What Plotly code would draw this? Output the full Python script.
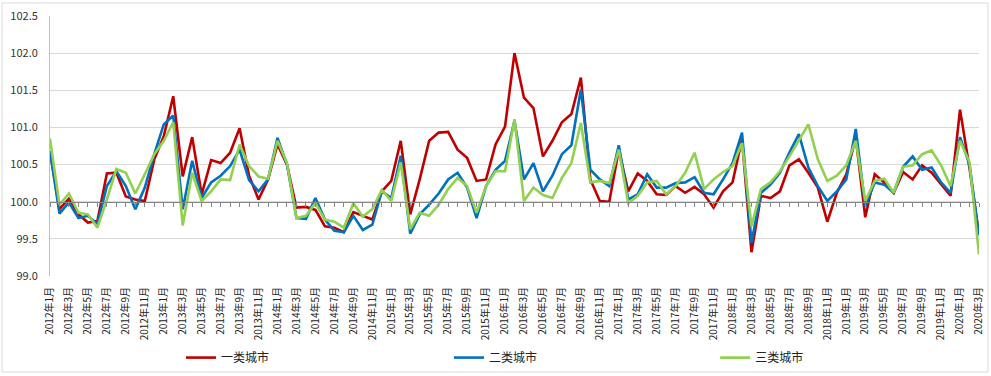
import plotly.graph_objects as go

months = [f"{y}年{m}月" for y in range(2012, 2021) for m in range(1, 13)][:99]

tier1 = [100.68, 99.90, 100.04, 99.83, 99.72, 99.74, 100.38, 100.39, 100.07, 100.03, 100.01, 100.57,
         100.88, 101.42, 100.34, 100.87, 100.10, 100.56, 100.52, 100.66, 100.99, 100.35, 100.03, 100.30,
         100.77, 100.50, 99.92, 99.93, 99.89, 99.67, 99.65, 99.59, 99.86, 99.81, 99.76, 100.14,
         100.28, 100.82, 99.83, 100.30, 100.82, 100.93, 100.94, 100.70, 100.59, 100.28, 100.30, 100.77,
         101.01, 102.00, 101.40, 101.26, 100.61, 100.82, 101.07, 101.18, 101.67, 100.30, 100.01, 100.00,
         100.70, 100.14, 100.38, 100.28, 100.10, 100.09, 100.21, 100.12, 100.20, 100.10, 99.92, 100.14,
         100.26, 100.84, 99.32, 100.08, 100.05, 100.14, 100.49, 100.57, 100.39, 100.19, 99.73, 100.12,
         100.37, 100.86, 99.79, 100.37, 100.26, 100.12, 100.40, 100.30, 100.49, 100.39, 100.23, 100.08,
         101.24, 100.45, 99.55]

tier2 = [100.68, 99.84, 99.99, 99.78, 99.81, 99.70, 100.21, 100.41, 100.21, 99.90, 100.19, 100.64,
         101.04, 101.16, 99.90, 100.55, 100.05, 100.26, 100.35, 100.48, 100.70, 100.29, 100.14, 100.30,
         100.86, 100.50, 99.78, 99.77, 100.05, 99.76, 99.61, 99.59, 99.81, 99.62, 99.69, 100.14,
         100.05, 100.62, 99.57, 99.83, 99.96, 100.11, 100.30, 100.39, 100.19, 99.78, 100.21, 100.43,
         100.55, 101.09, 100.30, 100.52, 100.14, 100.35, 100.64, 100.76, 101.51, 100.43, 100.30, 100.21,
         100.76, 100.03, 100.10, 100.37, 100.19, 100.19, 100.25, 100.26, 100.33, 100.12, 100.10, 100.30,
         100.52, 100.93, 99.45, 100.12, 100.23, 100.39, 100.66, 100.91, 100.46, 100.21, 100.01, 100.14,
         100.30, 100.98, 99.94, 100.26, 100.23, 100.12, 100.47, 100.61, 100.43, 100.46, 100.26, 100.12,
         100.87, 100.50, 99.55]

tier3 = [100.85, 99.96, 100.11, 99.85, 99.83, 99.65, 100.03, 100.44, 100.39, 100.11, 100.37, 100.64,
         100.82, 101.07, 99.68, 100.39, 100.01, 100.14, 100.30, 100.29, 100.77, 100.48, 100.34, 100.31,
         100.82, 100.52, 99.78, 99.81, 99.98, 99.76, 99.73, 99.65, 99.98, 99.80, 99.90, 100.16,
         100.01, 100.53, 99.63, 99.85, 99.81, 99.96, 100.17, 100.32, 100.21, 99.85, 100.21, 100.41,
         100.41, 101.11, 100.01, 100.19, 100.09, 100.05, 100.32, 100.52, 101.06, 100.26, 100.28, 100.25,
         100.70, 99.98, 100.08, 100.26, 100.28, 100.10, 100.21, 100.39, 100.66, 100.17, 100.30, 100.40,
         100.48, 100.79, 99.67, 100.17, 100.26, 100.41, 100.61, 100.82, 101.04, 100.57, 100.28, 100.35,
         100.49, 100.82, 100.01, 100.28, 100.31, 100.12, 100.47, 100.49, 100.64, 100.69, 100.49, 100.21,
         100.82, 100.53, 99.29]

series_names = ["一类城市", "二类城市", "三类城市"]
series_colors = ["#C00000", "#0070C0", "#92D050"]
y_ticks = [99.0, 99.5, 100.0, 100.5, 101.0, 101.5, 102.0, 102.5]

FONT = "Noto Sans CJK SC, Liberation Sans, sans-serif"

fig = go.Figure()
legend_ids = ["legend", "legend2", "legend3"]
for name, vals, col, lg in zip(series_names, [tier1, tier2, tier3], series_colors, legend_ids):
    fig.add_trace(go.Scatter(x=months, y=vals, mode="lines", name=name, legend=lg,
                             line=dict(color=col, width=2.6)))

# helper trace so the secondary axis (the one crossing at 100) is drawn
fig.add_trace(go.Scatter(x=months, y=[None] * len(months), xaxis="x2",
                         showlegend=False, hoverinfo="skip", mode="lines"))

ymin, ymax = 99.0, 102.5
cross = (100.0 - ymin) / (ymax - ymin)

def leg(xpos):
    return dict(orientation="h", x=xpos, xanchor="left", y=-0.258, yanchor="top",
                font=dict(size=12, color="#222222", family=FONT),
                bgcolor="rgba(0,0,0,0)")

fig.update_layout(
    width=991, height=376,
    margin=dict(l=50, r=12, t=16, b=100, autoexpand=False),
    paper_bgcolor="white", plot_bgcolor="white",
    font=dict(family=FONT, size=11, color="#333333"),
    xaxis=dict(type="category", range=[0, len(months) - 1], automargin=False,
               tickmode="array", tickvals=months[::2], ticktext=months[::2],
               tickangle=-90, showgrid=False, zeroline=False, showline=False,
               ticks="", ticklabelstandoff=8,
               tickfont=dict(size=10, color="#222222")),
    xaxis2=dict(type="category", overlaying="x", anchor="free", position=cross,
                range=[0, len(months) - 1], showline=True, linecolor="#868686",
                linewidth=1, ticks="outside", ticklen=4, tickcolor="#868686",
                tickmode="array", tickvals=months, showticklabels=False,
                showgrid=False, zeroline=False, automargin=False),
    yaxis=dict(range=[ymin, ymax], tickvals=y_ticks, tickformat=".1f", automargin=False,
               showgrid=True, gridcolor="#D9D9D9", gridwidth=1,
               zeroline=False, showline=True, linecolor="#BFBFBF", linewidth=1,
               ticks="", ticklabelstandoff=9,
               tickfont=dict(size=11, color="#333333")),
    legend=leg(0.141),
    legend2=leg(0.4295),
    legend3=leg(0.716),
    showlegend=True,
)

# outer chart border
fig.add_shape(type="rect", xref="paper", yref="paper",
              x0=-48 / 929, x1=1 + 9 / 929, y0=-96 / 260, y1=1 + 13 / 260,
              line=dict(color="#D9D9D9", width=1), fillcolor="rgba(0,0,0,0)",
              layer="below")

fig.write_html("out.html", config={"displayModeBar": False},
               post_script="document.body.style.margin='0';document.body.style.padding='0';")
